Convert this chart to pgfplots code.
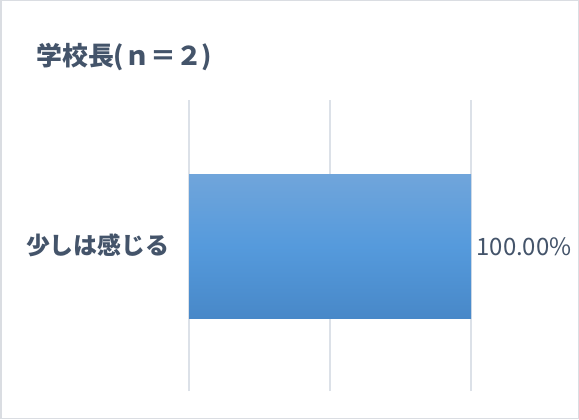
\documentclass[border=0pt]{standalone}
\usepackage{pgfplots}
\pgfplotsset{compat=1.18}
\usepackage{fontspec}
\setmainfont{Noto Sans CJK JP}
\definecolor{txt}{HTML}{44546A}
\definecolor{gridc}{HTML}{DCE1E8}
\definecolor{framec}{HTML}{DADDE2}
\definecolor{bartop}{HTML}{70A5DB}
\definecolor{barmid}{HTML}{559ADC}
\definecolor{barbot}{HTML}{4888C8}
\begin{document}
\begin{tikzpicture}[x=1bp,y=1bp]
\useasboundingbox (0,0) rectangle (579,419);
\fill[white] (0,0) rectangle (579,419);
\draw[color=framec, line width=1.5bp] (0.75,0.75) rectangle (578.25,418.25);
\node[anchor=west, inner sep=0, font=\fontsize{26}{26}\selectfont\bfseries, text=txt] at (36,362) {学校長(ｎ＝２)};
\begin{axis}[
  at={(189bp,28bp)}, anchor=south west,
  scale only axis, width=282bp, height=291bp,
  xmin=0, xmax=1, ymin=-1, ymax=1,
  xtick={0,0.5,1}, xticklabels={},
  xmajorgrids, grid style={color=gridc, line width=1.5bp},
  axis line style={draw=none},
  major tick length=0,
  ytick={0}, yticklabels={少しは感じる},
  yticklabel style={font=\fontsize{24}{24}\selectfont\bfseries, text=txt, xshift=-16bp},
  clip=false,
]
\addplot[xbar, bar width=0.99, draw=none, top color=bartop, bottom color=barbot, middle color=barmid,
  nodes near coords={100.00\%},
  nodes near coords style={anchor=west, font=\fontsize{24}{24}\selectfont, text=txt, xshift=2bp}]
  coordinates {(1,-0.007)};
\end{axis}
\end{tikzpicture}
\end{document}
